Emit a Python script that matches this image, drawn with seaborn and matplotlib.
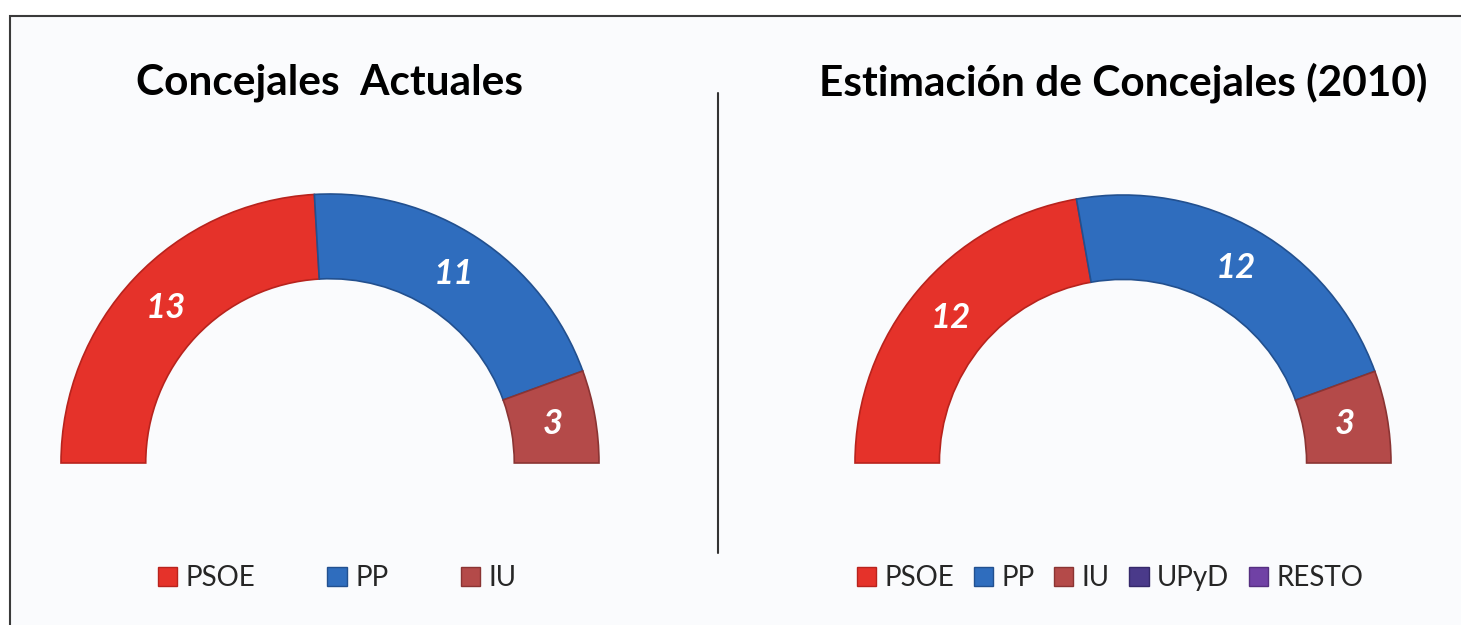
import numpy as np
import pandas as pd
import seaborn as sns
import matplotlib.pyplot as plt
from matplotlib.patches import Patch, Rectangle
from matplotlib.lines import Line2D

# datos
partidos_actual = ["PSOE", "PP", "IU"]
concejales_actual = [13, 11, 3]
partidos_est = ["PSOE", "PP", "IU", "UPyD", "RESTO"]
concejales_est = [12, 12, 3, 0, 0]
titulo_actual = "Concejales  Actuales"
titulo_est = "Estimación de Concejales (2010)"

colores = {"PSOE": "#E5322A", "PP": "#2F6DBE", "IU": "#B44A49",
           "UPyD": "#4A3A8A", "RESTO": "#7041A5"}
bordes = {"PSOE": "#B8231D", "PP": "#22508F", "IU": "#8A3433",
          "UPyD": "#35296A", "RESTO": "#552F80"}

sns.set_theme(style="white")
plt.rcParams['font.family'] = ['Lato', 'DejaVu Sans']

W, H = 1461, 625
fig = plt.figure(figsize=(W / 100, H / 100), dpi=100)
fig.patch.set_facecolor("white")

# marco
fig.add_artist(Rectangle((10 / W, -0.2), 1.5, 1.2 - 16 / H, transform=fig.transFigure,
                         facecolor="#FAFBFD", edgecolor="#3a3a3a", lw=1.5, zorder=-5))
fig.add_artist(Line2D([718 / W] * 2, [1 - 93 / H, 1 - 553 / H], color="#333333", lw=1.5))


def semi_donut(cx, cy, R, partidos, valores, titulo, ley_x, colsp):
    ax = fig.add_axes([(cx - R) / W, (H - cy - R) / H, 2 * R / W, 2 * R / H])
    ax.patch.set_alpha(0)
    total = sum(valores)
    vals = list(valores) + [total]
    cols = [colores[p] for p in partidos] + ["none"]

    def etiqueta(pct):
        n = int(round(pct * 2 * total / 100))
        return "" if n == 0 or n == total else f"{n}"

    wedges, _, autotexts = ax.pie(
        vals, colors=cols, startangle=180, counterclock=False, radius=1,
        wedgeprops=dict(width=0.315, linewidth=1.2),
        autopct=etiqueta, pctdistance=0.84,
        textprops=dict(color="white", fontsize=25, fontweight="bold", fontstyle="italic"))
    for w, p, v in zip(wedges, partidos + [None], vals):
        if p is None or v == 0:
            w.set_edgecolor("none")
        else:
            w.set_edgecolor(bordes[p])
    ax.set_xlim(-1, 1)
    ax.set_ylim(-1, 1)
    ax.axis("off")

    fig.text(cx / W, 1 - 83 / H, titulo, ha="center", va="center",
             fontsize=30.5, fontweight="bold", color="black")
    handles = [Patch(facecolor=colores[p], edgecolor=bordes[p]) for p in partidos]
    fig.legend(handles, partidos, loc="center", bbox_to_anchor=(ley_x / W, 1 - 578 / H),
               ncol=len(partidos), frameon=False, fontsize=20, handlelength=0.7,
               handleheight=0.7, handletextpad=0.3, columnspacing=colsp)


semi_donut(330, 463, 269, partidos_actual, concejales_actual, titulo_actual, 337, 2.6)
semi_donut(1123, 463, 268, partidos_est, concejales_est, titulo_est, 1110, 0.7)

fig.savefig("out.png", dpi=100)
